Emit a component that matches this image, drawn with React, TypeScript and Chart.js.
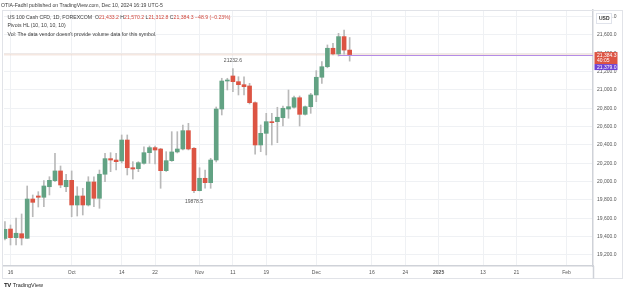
import React, { useEffect, useRef } from 'react';
import { Chart, registerables } from 'chart.js';

Chart.register(...registerables);

// Daily bars, US 100 Cash CFD (FOREXCOM)
const dates = [
  '2024-09-13',
  '2024-09-16', '2024-09-17', '2024-09-18', '2024-09-19', '2024-09-20',
  '2024-09-23', '2024-09-24', '2024-09-25', '2024-09-26', '2024-09-27',
  '2024-09-30', '2024-10-01', '2024-10-02', '2024-10-03', '2024-10-04',
  '2024-10-07', '2024-10-08', '2024-10-09', '2024-10-10', '2024-10-11',
  '2024-10-14', '2024-10-15', '2024-10-16', '2024-10-17', '2024-10-18',
  '2024-10-21', '2024-10-22', '2024-10-23', '2024-10-24', '2024-10-25',
  '2024-10-28', '2024-10-29', '2024-10-30', '2024-10-31', '2024-11-01',
  '2024-11-04', '2024-11-05', '2024-11-06', '2024-11-07', '2024-11-08',
  '2024-11-11', '2024-11-12', '2024-11-13', '2024-11-14', '2024-11-15',
  '2024-11-18', '2024-11-19', '2024-11-20', '2024-11-21', '2024-11-22',
  '2024-11-25', '2024-11-26', '2024-11-27', '2024-11-28', '2024-11-29',
  '2024-12-02', '2024-12-03', '2024-12-04', '2024-12-05', '2024-12-06',
  '2024-12-09', '2024-12-10',
];

const opens = [
  19380,
  19483, 19389, 19432, 19382, 19810,
  19843, 19829, 19944, 20010, 20116,
  19944, 20014, 19745, 19843, 19745,
  19996, 19818, 20080, 20250, 20235,
  20225, 20453, 20151, 20141, 20199,
  20315, 20370, 20355, 20119, 20228,
  20323, 20355, 20555, 20363, 19901,
  20036, 19988, 20235, 20791, 21096,
  21151, 21089, 21056, 21042, 20860,
  20399, 20526, 20653, 20653, 20696,
  20791, 20810, 20914, 20733, 20816,
  20944, 21137, 21252, 21453, 21391,
  21580, 21433.2,
];

const highs = [
  19563,
  19527, 19603, 19647, 19952, 19854,
  19890, 20010, 20053, 20308, 20170,
  20080, 20116, 19944, 19927, 20053,
  20053, 20126, 20308, 20315, 20308,
  20508, 20508, 20217, 20217, 20380,
  20388, 20388, 20363, 20326, 20544,
  20544, 20617, 20635, 20370, 20151,
  20126, 20254, 20813, 21126, 21126,
  21232.6, 21143, 21143, 21071, 20868,
  20617, 20744, 20744, 20810, 20824,
  20998, 20933, 20933, 20824, 20962,
  21209, 21307, 21489, 21507, 21616,
  21652, 21570.2,
];

const lows = [
  19363,
  19309, 19309, 19309, 19380, 19617,
  19723, 19726, 19854, 19999, 19933,
  19890, 19617, 19625, 19636, 19734,
  19726, 19709, 19999, 20108, 20126,
  20203, 20072, 20028, 20108, 20190,
  20199, 20192, 19927, 20110, 20220,
  20312, 20345, 20345, 19878.5, 19898,
  19927, 19927, 20214, 20726, 20998,
  20980, 20944, 20944, 20846, 20298,
  20326, 20290, 20399, 20424, 20606,
  20690, 20800, 20606, 20725, 20744,
  20871, 21071, 21240, 21380, 21369,
  21389, 21312.8,
];

const closes = [
  19480,
  19389, 19437, 19385, 19810, 19774,
  19829, 19952, 20014, 20116, 19963,
  20014, 19745, 19843, 19745, 19996,
  19818, 20080, 20250, 20235, 20217,
  20453, 20151, 20137, 20206, 20315,
  20370, 20344, 20119, 20228, 20323,
  20355, 20555, 20355, 19901, 20036,
  19988, 20235, 20791, 21096, 21107,
  21089, 21056, 21034, 20860, 20399,
  20526, 20653, 20642, 20701, 20799,
  20816, 20914, 20733, 20816, 20944,
  21137, 21252, 21453, 21391, 21580,
  21433.2, 21384.3,
];

// Time axis labels
const timeTickDates = [
  '2024-09-16', '2024-10-01', '2024-10-14', '2024-10-22', '2024-11-01',
  '2024-11-11', '2024-11-19', '2024-12-02', '2024-12-16', '2024-12-24',
  '2025-01-01', '2025-01-13', '2025-01-21', '2025-02-03',
];
const timeTickLabels = ['16', 'Oct', '14', '22', 'Nov', '11', '19', 'Dec', '16', '24', '2025', '13', '21', 'Feb'];

// Price axis labels
const priceTicks = [19200, 19400, 19600, 19800, 20000, 20200, 20400, 20600, 20800, 21000, 21200, 21400, 21600, 21800];

// Visible ranges (bar index / price)
const xView = [-1.17, 104.77];
const yView = [19080, 21870];

const lastPrice = 21384.3;
const bidPrice = 21379.0;
const bidLineFrom = '2024-12-06';
const barCountdown = '40:05';
const pivotHighDate = '2024-11-11';
const pivotHighValue = 21232.6;
const pivotLowDate = '2024-10-31';
const pivotLowValue = 19878.5;

const UP = '#62a283';
const DOWN = '#dc5443';
const WICK = '#b9b9b9';
const FONT = "'Liberation Sans', Arial, sans-serif";

// Bar index counted in weekdays from Monday 2024-09-16
const ORIGIN = Date.UTC(2024, 8, 16);
function barIndex(iso: string): number {
  const [y, m, d] = iso.split('-').map(Number);
  const days = Math.round((Date.UTC(y, m - 1, d) - ORIGIN) / 86400000);
  const weeks = Math.floor(days / 7);
  const rem = days - weeks * 7;
  return weeks * 5 + Math.min(rem, 5);
}

const fmtPrice = (v: number) =>
  v.toLocaleString('en-US', { minimumFractionDigits: 1, maximumFractionDigits: 1 });

const overlayPlugin = {
  id: 'tvOverlay',
  beforeDatasetsDraw(chart: any) {
    const { ctx, chartArea: a, scales } = chart;
    const y = scales.y.getPixelForValue(lastPrice);
    ctx.save();
    // faint last-price line
    ctx.strokeStyle = 'rgba(236, 214, 200, 0.55)';
    ctx.lineWidth = 2;
    ctx.beginPath();
    ctx.moveTo(a.left, y);
    ctx.lineTo(a.right, y);
    ctx.stroke();
    ctx.restore();
  },
  afterDatasetsDraw(chart: any) {
    const { ctx, chartArea: a, scales } = chart;
    const xs = scales.x;
    const ys = scales.y;
    ctx.save();
    // bid line
    const yb = Math.round(ys.getPixelForValue(bidPrice)) + 0.5;
    ctx.strokeStyle = '#b48ce6';
    ctx.lineWidth = 1;
    ctx.beginPath();
    ctx.moveTo(xs.getPixelForValue(barIndex(bidLineFrom)), yb);
    ctx.lineTo(a.right, yb);
    ctx.stroke();
    // pivot labels
    ctx.fillStyle = '#555';
    ctx.font = `5px ${FONT}`;
    ctx.textAlign = 'center';
    ctx.textBaseline = 'middle';
    ctx.fillText(String(pivotHighValue), xs.getPixelForValue(barIndex(pivotHighDate)), ys.getPixelForValue(pivotHighValue) - 7.5);
    ctx.fillText(String(pivotLowValue), xs.getPixelForValue(barIndex(pivotLowDate)), ys.getPixelForValue(pivotLowValue) + 9);
    ctx.restore();
  },
  afterDraw(chart: any) {
    const { ctx, chartArea: a, scales, width } = chart;
    const ys = scales.y;
    ctx.save();
    // pane frame
    ctx.strokeStyle = '#e1e3e8';
    ctx.lineWidth = 1;
    ctx.strokeRect(2.5, 10.5, width - 5, 268);
    // axis column separator down to frame bottom
    ctx.strokeStyle = '#cfd2d8';
    ctx.lineWidth = 1.5;
    ctx.beginPath();
    ctx.moveTo(a.right + 0.5, a.bottom);
    ctx.lineTo(a.right + 0.5, 278.5);
    ctx.stroke();

    // USD box
    ctx.fillStyle = '#fff';
    ctx.fillRect(a.right + 3, 13, 16, 11);
    ctx.strokeStyle = '#e0e3eb';
    ctx.lineWidth = 1;
    ctx.strokeRect(a.right + 3.5, 13.5, 15, 10);
    ctx.fillStyle = '#333';
    ctx.font = `bold 5px ${FONT}`;
    ctx.textAlign = 'left';
    ctx.textBaseline = 'middle';
    ctx.fillText('USD', a.right + 6, 18.5);

    // last price label with countdown
    const yl = ys.getPixelForValue(lastPrice);
    ctx.fillStyle = DOWN;
    ctx.fillRect(a.right + 1.5, yl - 2.5, 23, 12);
    ctx.fillStyle = '#fff';
    ctx.font = `5px ${FONT}`;
    ctx.fillText(fmtPrice(lastPrice), a.right + 4, yl + 0.8);
    ctx.fillText(barCountdown, a.right + 4, yl + 6.2);

    // bid price label
    const ybl = yl + 9.5;
    ctx.fillStyle = '#6f42d4';
    ctx.fillRect(a.right + 1.5, ybl, 23, 6);
    ctx.fillStyle = '#fff';
    ctx.fillText(fmtPrice(bidPrice), a.right + 4, ybl + 3.1);
    ctx.restore();
  },
};

export default function App() {
  const canvasRef = useRef<HTMLCanvasElement | null>(null);

  useEffect(() => {
    if (!canvasRef.current) return;
    const idx = dates.map(barIndex);
    const bodies = idx.map((x, i) => ({ x, y: [Math.min(opens[i], closes[i]), Math.max(opens[i], closes[i])] }));
    const wicks = idx.map((x, i) => ({ x, y: [lows[i], highs[i]] }));
    const colors = opens.map((o, i) => (closes[i] >= o ? UP : DOWN));
    const tickIdx = timeTickDates.map(barIndex);

    const chart = new Chart(canvasRef.current, {
      type: 'bar',
      data: {
        datasets: [
          {
            data: bodies as any,
            backgroundColor: colors,
            barThickness: 4,
            grouped: false,
            order: 0,
          } as any,
          {
            data: wicks as any,
            backgroundColor: WICK,
            barThickness: 1,
            grouped: false,
            order: 1,
          } as any,
        ],
      },
      options: {
        animation: false,
        responsive: false,
        maintainAspectRatio: false,
        layout: { padding: { top: 10, left: 4, right: 0, bottom: 0 } },
        plugins: { legend: { display: false }, tooltip: { enabled: false } },
        scales: {
          x: {
            type: 'linear',
            offset: false,
            min: xView[0],
            max: xView[1],
            afterBuildTicks: (s: any) => {
              s.ticks = tickIdx.map((v) => ({ value: v }));
            },
            afterFit: (s: any) => {
              s.height = 28;
            },
            grid: { color: '#eff1f4', drawTicks: false, offset: false },
            border: { color: '#cfd2d8', width: 1.5 },
            ticks: {
              autoSkip: false,
              maxRotation: 0,
              padding: 4,
              color: '#555',
              font: (c: any) => ({
                size: 5,
                family: FONT,
                weight: c.tick && c.tick.value === barIndex('2025-01-01') ? 'bold' : 'normal',
              }),
              callback: (v: any) => {
                const k = tickIdx.indexOf(Number(v));
                return k >= 0 ? timeTickLabels[k] : '';
              },
            },
          },
          y: {
            type: 'linear',
            position: 'right',
            min: yView[0],
            max: yView[1],
            afterBuildTicks: (s: any) => {
              s.ticks = priceTicks.map((v) => ({ value: v }));
            },
            afterFit: (s: any) => {
              s.width = 32;
            },
            grid: { color: '#eff1f4', drawTicks: false },
            border: { color: '#cfd2d8', width: 1.5 },
            ticks: {
              padding: 4,
              color: '#555',
              font: { size: 5, family: FONT },
              callback: (v: any) => fmtPrice(Number(v)),
            },
          },
        },
      },
      plugins: [overlayPlugin],
    });
    return () => chart.destroy();
  }, []);

  const red = '#d0453a';
  const text: React.CSSProperties = {
    position: 'absolute',
    left: 0,
    fontFamily: FONT,
    fontSize: '5.15px',
    lineHeight: '6px',
    color: '#3a3a3a',
    whiteSpace: 'nowrap',
  };

  return (
    <div style={{ position: 'fixed', left: 0, top: 0, width: 625, height: 294, background: '#fff', overflow: 'hidden' }}>
      <canvas ref={canvasRef} width={625} height={294} style={{ position: 'absolute', left: 0, top: 0 }} />
      <div style={{ ...text, left: 1, top: 2.3 }}>OTIA-Fadhl published on TradingView.com, Dec 10, 2024 16:19 UTC-5</div>
      <div style={{ ...text, left: 7.5, top: 13.8 }}>
        US 100 Cash CFD, 1D, FOREXCOM&nbsp; O<span style={{ color: red }}>21,433.2</span> H
        <span style={{ color: red }}>21,570.2</span> L<span style={{ color: red }}>21,312.8</span> C
        <span style={{ color: red }}>21,384.3</span> <span style={{ color: red }}>−48.9 (−0.23%)</span>
      </div>
      <div style={{ ...text, left: 7.5, top: 22.3 }}>Pivots HL (10, 10, 10, 10)</div>
      <div style={{ ...text, left: 7.5, top: 30.7 }}>Vol: The data vendor doesn't provide volume data for this symbol.</div>
      <div style={{ ...text, left: 4, top: 282, display: 'flex', alignItems: 'center', gap: 2, fontSize: '5.5px', color: '#222' }}>
        <span style={{ fontWeight: 900, fontSize: '6px', letterSpacing: '-0.5px' }}>TV</span>
        <span>TradingView</span>
      </div>
    </div>
  );
}
